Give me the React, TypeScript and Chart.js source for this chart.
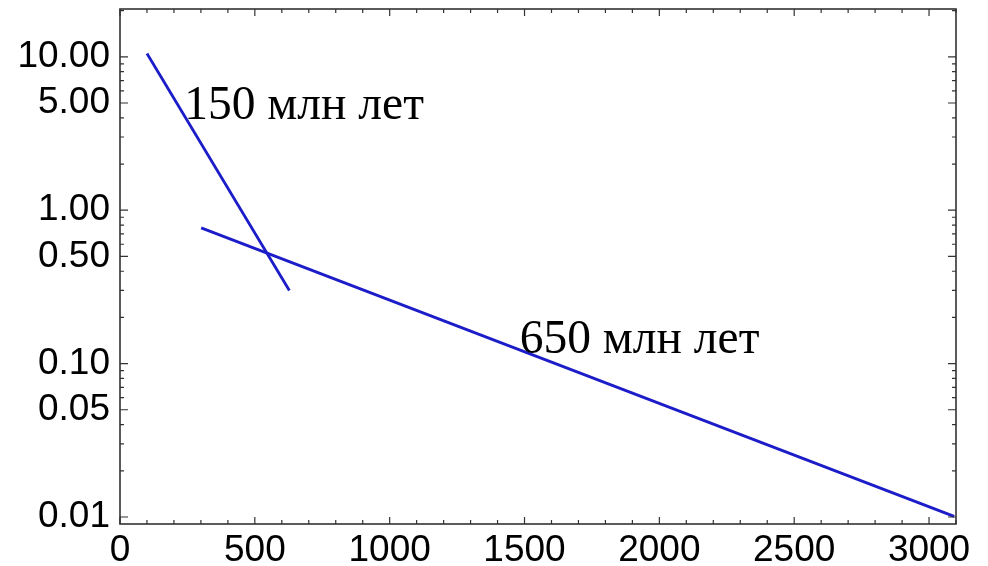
import React, { useEffect, useRef } from 'react';
import { Chart, registerables } from 'chart.js';

Chart.register(...registerables);

// Data
const line150X = [100, 628];
const line150Y = [10.5, 0.3];
const line650X = [301, 3093];
const line650Y = [0.767, 0.0101];

// Axes
const xMin = 0;
const xMax = 3100;
const xLabelValues = [0, 500, 1000, 1500, 2000, 2500, 3000];
const xMinorStep = 100;
const yMin = 0.009;
const yMax = 20.5;
const yLabelValues = [0.01, 0.05, 0.1, 0.5, 1, 5, 10];
const yDecades = [0.01, 0.1, 1, 10];

// Annotations
const annotationTexts = ['150 млн лет', '650 млн лет'];
const annotationX = [238, 1482];
const annotationY = [3.94, 0.117];

const LINE_COLOR = '#1c1cc8';
const FRAME_COLOR = '#333333';

function isLabelY(v: number) {
  return yLabelValues.some((l) => Math.abs(v - l) / l < 1e-6);
}

function buildXTicks() {
  const out: { value: number; major: boolean }[] = [];
  for (let v = xMin; v <= xMax + 1e-9; v += xMinorStep) {
    out.push({ value: v, major: xLabelValues.includes(v) });
  }
  return out;
}

function buildYTicks() {
  const out: { value: number; major: boolean }[] = [];
  yDecades.forEach((d) => {
    for (let m = 1; m <= 9; m++) {
      const v = +(d * m).toPrecision(6);
      if (v >= yMin && v <= yMax) out.push({ value: v, major: isLabelY(v) });
    }
  });
  return out;
}

const framePlugin = {
  id: 'frameTicks',
  afterDraw(chart: any) {
    const { ctx, chartArea } = chart;
    const { left, right, top, bottom } = chartArea;
    const xs = chart.scales.x;
    const ys = chart.scales.y;
    ctx.save();
    ctx.strokeStyle = FRAME_COLOR;
    ctx.lineWidth = 1.2;
    ctx.beginPath();
    xs.ticks.forEach((t: any) => {
      const px = xs.getPixelForValue(t.value);
      const len = t.major ? 7 : 4;
      ctx.moveTo(px, bottom);
      ctx.lineTo(px, bottom - len);
      ctx.moveTo(px, top);
      ctx.lineTo(px, top + len);
    });
    ys.ticks.forEach((t: any) => {
      const py = ys.getPixelForValue(t.value);
      const len = t.major ? 8 : 4;
      ctx.moveTo(left, py);
      ctx.lineTo(left + len, py);
      ctx.moveTo(right, py);
      ctx.lineTo(right - len, py);
    });
    ctx.stroke();
    ctx.lineWidth = 1.6;
    ctx.strokeRect(left, top, right - left, bottom - top);
    ctx.restore();
  },
};

const annotationPlugin = {
  id: 'annotations',
  afterDatasetsDraw(chart: any) {
    const { ctx } = chart;
    const xs = chart.scales.x;
    const ys = chart.scales.y;
    ctx.save();
    ctx.fillStyle = '#000';
    ctx.font = '47.5px "Liberation Serif", "Times New Roman", serif';
    ctx.textAlign = 'left';
    ctx.textBaseline = 'alphabetic';
    annotationTexts.forEach((txt, i) => {
      ctx.fillText(txt, xs.getPixelForValue(annotationX[i]), ys.getPixelForValue(annotationY[i]));
    });
    ctx.restore();
  },
};

export default function App() {
  const canvasRef = useRef<HTMLCanvasElement | null>(null);

  useEffect(() => {
    if (!canvasRef.current) return;
    const tickFont = { family: '"Liberation Sans", Arial, sans-serif', size: 37 };
    const chart = new Chart(canvasRef.current, {
      type: 'line',
      data: {
        datasets: [
          {
            label: '150',
            data: line150X.map((x, i) => ({ x, y: line150Y[i] })),
            borderColor: LINE_COLOR,
            borderWidth: 2.8,
            pointRadius: 0,
            fill: false,
          },
          {
            label: '650',
            data: line650X.map((x, i) => ({ x, y: line650Y[i] })),
            borderColor: LINE_COLOR,
            borderWidth: 2.8,
            pointRadius: 0,
            fill: false,
          },
        ],
      },
      options: {
        responsive: false,
        animation: false,
        layout: { padding: { top: 9, right: 32, left: 0, bottom: 0 } },
        plugins: { legend: { display: false }, tooltip: { enabled: false } },
        scales: {
          x: {
            type: 'linear',
            min: xMin,
            max: xMax,
            grid: { display: false, drawTicks: false },
            border: { display: false },
            afterBuildTicks: (scale: any) => {
              scale.ticks = buildXTicks();
            },
            afterFit: (scale: any) => {
              scale.height = 42;
              scale.paddingLeft = 0;
              scale.paddingRight = 0;
            },
            ticks: {
              autoSkip: false,
              maxRotation: 0,
              minRotation: 0,
              padding: 5,
              color: '#000',
              font: tickFont,
              callback: (v: any) => (xLabelValues.includes(Number(v)) ? String(v) : ''),
            },
          },
          y: {
            type: 'logarithmic',
            min: yMin,
            max: yMax,
            grid: { display: false, drawTicks: false },
            border: { display: false },
            afterBuildTicks: (scale: any) => {
              scale.ticks = buildYTicks();
            },
            afterFit: (scale: any) => {
              scale.width = 120;
              scale.paddingTop = 0;
              scale.paddingBottom = 0;
            },
            ticks: {
              autoSkip: false,
              padding: 10,
              color: '#000',
              font: tickFont,
              callback: (v: any) => (isLabelY(Number(v)) ? Number(v).toFixed(2) : ''),
            },
          },
        },
      },
      plugins: [framePlugin, annotationPlugin],
    } as any);
    return () => chart.destroy();
  }, []);

  return (
    <div style={{ position: 'absolute', left: 0, top: 0, width: 988, height: 566, background: '#fff' }}>
      <canvas ref={canvasRef} width={988} height={566} style={{ display: 'block' }} />
    </div>
  );
}
